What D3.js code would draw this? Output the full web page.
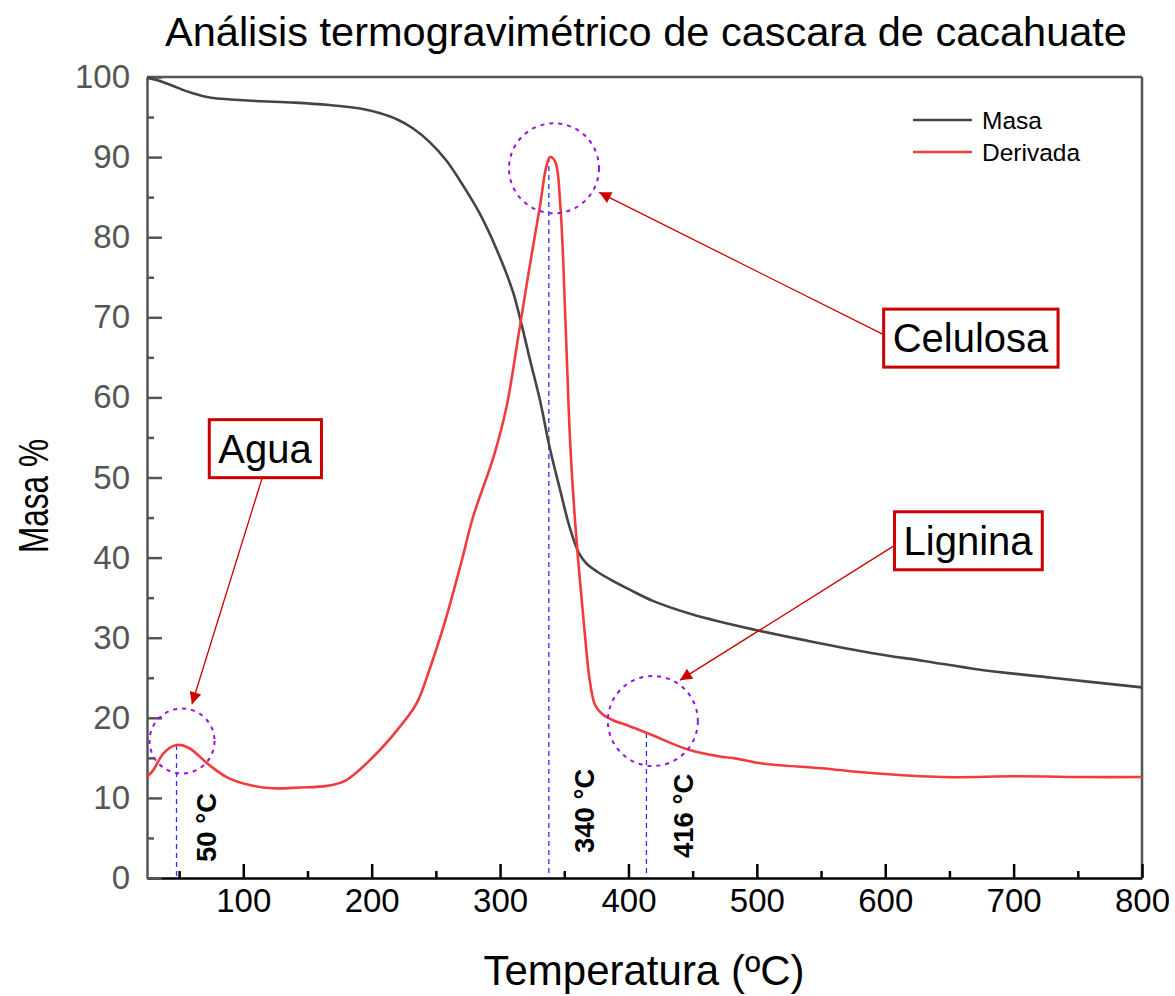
<!DOCTYPE html>
<html><head><meta charset="utf-8">
<script src="https://cdn.jsdelivr.net/npm/d3@7"></script>
<style>body{margin:0;background:#fff} text{font-family:"Liberation Sans",Arial,Helvetica,sans-serif}</style>
</head><body><svg id="chart" width="1175" height="996"></svg>
<script>
// ---- data ----
const masaTemps  = [25,35,45,60,75,90,110,140,167,190,206,220,232,245,258,271,284,297,310,316,323,331,339,347,354,361,367,376,390,401,419,450,498,540,589,630,674,730,800];
const masaValues = [99.9,99.5,98.9,98.0,97.4,97.2,97.0,96.8,96.5,96.1,95.5,94.7,93.6,91.9,89.6,86.5,83.0,78.6,73.2,69.6,64.9,59.7,53.5,48.3,43.9,40.7,39.3,38.2,36.9,36.0,34.6,32.9,31.0,29.6,28.1,27.1,26.0,25.0,23.8];
const derivTemps  = [25,30,38,48,58,72,87,105,123,144,165,180,201,220,235,245,256,269,279,295,305,315,323,331,336,339,343,347,351,354.5,358,362,366,370,374,380,388,400,416,447,470,484,504,550,589,645,702,759,800];
const derivValues = [12.6,13.5,15.6,16.6,16.2,14.3,12.6,11.6,11.2,11.3,11.5,12.2,15.1,18.5,21.8,26.0,31.4,38.9,45.1,52.6,58.8,68.4,76.3,83.8,88.8,90.0,89.4,83.8,69.2,54.7,45.5,37.5,30.5,24.5,21.6,20.4,19.7,19.0,18.0,16.0,15.2,14.9,14.3,13.7,13.1,12.6,12.7,12.6,12.6];
const seriesNames = ["Masa","Derivada"];
const xMajorTicks = [100,200,300,400,500,600,700,800];
const xMinorTicks = [50,150,250,350,450,550,650,750];
const yMajorTicks = [0,10,20,30,40,50,60,70,80,90,100];
const yMinorTicks = [5,15,25,35,45,55,65,75,85,95];
const peakTemps  = [48,338,414];
const peakValues = [16.6,90.0,18.1];
const peakLabels = ["50 °C","340 °C","416 °C"];
const circleTemps  = [52.3,342,419];
const circleValues = [17.1,88.6,19.6];
const boxLabels = ["Agua","Celulosa","Lignina"];
const boxTemps  = [116.9,666.4,664.5];
const boxValues = [53.6,67.4,42.1];
const arrowFromT = [114.6,599.1,606.1];
const arrowFromV = [49.9,67.8,41.4];
const arrowToT   = [60.0,377.1,440.1];
const arrowToV   = [21.7,85.6,24.7];

// ---- scales ----
const svg = d3.select('#chart');
const x = d3.scaleLinear().domain([25,800]).range([147,1142]);
const y = d3.scaleLinear().domain([0,100]).range([878,77]);
const axisGray = "#555";
const FF = '"Liberation Sans",Arial,sans-serif';

// frame (top & right)
svg.append("line").attr("x1",x(25)).attr("x2",x(800)).attr("y1",y(100)).attr("y2",y(100)).attr("stroke",axisGray).attr("stroke-width",2.5);
svg.append("line").attr("x1",x(800)).attr("x2",x(800)).attr("y1",y(100)).attr("y2",y(0)).attr("stroke",axisGray).attr("stroke-width",2.5);

// x axis
const gx = svg.append("g").attr("transform",`translate(0,${y(0)})`)
  .call(d3.axisBottom(x).tickValues(xMajorTicks).tickSizeInner(-14).tickSizeOuter(0).tickPadding(11).tickFormat(d3.format("d")));
gx.select(".domain").attr("stroke","#000").attr("stroke-width",2.5);
gx.selectAll(".tick line").attr("stroke","#000").attr("stroke-width",2.5);
gx.selectAll(".tick text").attr("font-size",33).attr("fill","#000").attr("font-family",FF);
const gxm = svg.append("g").attr("transform",`translate(0,${y(0)})`)
  .call(d3.axisBottom(x).tickValues(xMinorTicks).tickSizeInner(-7).tickSizeOuter(0).tickFormat(""));
gxm.select(".domain").remove();
gxm.selectAll(".tick line").attr("stroke","#000").attr("stroke-width",2.5);

// y axis
const gy = svg.append("g").attr("transform",`translate(${x(25)},0)`)
  .call(d3.axisLeft(y).tickValues(yMajorTicks).tickSizeInner(-15).tickSizeOuter(0).tickPadding(17).tickFormat(d3.format("d")));
gy.select(".domain").attr("stroke",axisGray).attr("stroke-width",2.5);
gy.selectAll(".tick line").attr("stroke",axisGray).attr("stroke-width",2.5);
gy.selectAll(".tick text").attr("font-size",33).attr("fill",axisGray).attr("font-family",FF);
const gym = svg.append("g").attr("transform",`translate(${x(25)},0)`)
  .call(d3.axisLeft(y).tickValues(yMinorTicks).tickSizeInner(-7).tickSizeOuter(0).tickFormat(""));
gym.select(".domain").remove();
gym.selectAll(".tick line").attr("stroke",axisGray).attr("stroke-width",2.5);

// dashed vertical peak lines
svg.append("g").selectAll("line").data(peakTemps).join("line")
  .attr("x1",d=>x(d)).attr("x2",d=>x(d))
  .attr("y1",(d,i)=>y(peakValues[i])).attr("y2",y(0))
  .attr("stroke","#2233ff").attr("stroke-width",1.3).attr("stroke-dasharray","5,4");

// curves
const line = d3.line().curve(d3.curveCatmullRom.alpha(0.5));
const masaPts = masaTemps.map((t,i)=>[x(t),y(masaValues[i])]);
const derivPts = derivTemps.map((t,i)=>[x(t),y(derivValues[i])]);
svg.append("path").attr("d",line(masaPts)).attr("fill","none").attr("stroke","#444").attr("stroke-width",2.6);
svg.append("path").attr("d",line(derivPts)).attr("fill","none").attr("stroke","#f03c3c").attr("stroke-width",2.6);

// dashed circles
const radii = [32.5,45,45];
svg.append("g").selectAll("circle").data(circleTemps).join("circle")
  .attr("cx",d=>x(d)).attr("cy",(d,i)=>y(circleValues[i])).attr("r",(d,i)=>radii[i])
  .attr("fill","none").attr("stroke","#9a10e0").attr("stroke-width",2).attr("stroke-dasharray","4,5");

// peak labels (rotated)
const labelOffsets = [30,36,37];
const labelBottoms = [862,853,858];
peakLabels.forEach((lab,i)=>{
  const cx = x(peakTemps[i]) + labelOffsets[i];
  svg.append("text").attr("transform",`translate(${cx},${labelBottoms[i]}) rotate(-90)`)
    .attr("dominant-baseline","central").attr("text-anchor","start")
    .attr("font-size",27.5).attr("font-weight","bold").attr("fill","#000").text(lab);
});

// arrows
const defs = svg.append("defs");
defs.append("marker").attr("id","arr").attr("viewBox","0 0 10 10").attr("refX",10).attr("refY",5)
  .attr("markerWidth",17).attr("markerHeight",12).attr("markerUnits","userSpaceOnUse").attr("orient","auto")
  .append("path").attr("d","M0,0 L10,5 L0,10 Z").attr("fill","#cc0000");
arrowFromT.forEach((t,i)=>{
  svg.append("line").attr("x1",x(t)).attr("y1",y(arrowFromV[i])).attr("x2",x(arrowToT[i])).attr("y2",y(arrowToV[i]))
    .attr("stroke","#cc0000").attr("stroke-width",1.3).attr("marker-end","url(#arr)");
});

// boxed labels
boxLabels.forEach((lab,i)=>{
  const g = svg.append("g");
  const t = g.append("text").attr("x",x(boxTemps[i])).attr("y",y(boxValues[i]))
    .attr("text-anchor","middle").attr("dominant-baseline","central").attr("font-size",40).attr("fill","#000").text(lab);
  const bb = t.node().getBBox();
  g.insert("rect","text").attr("x",bb.x-9).attr("y",y(boxValues[i])-29).attr("width",bb.width+18).attr("height",58)
    .attr("fill","#fff").attr("stroke","#cc0000").attr("stroke-width",3);
});

// legend
const legColors = ["#444","#f03c3c"];
seriesNames.forEach((n,i)=>{
  const ly = 120 + i*32;
  svg.append("line").attr("x1",913).attr("x2",972).attr("y1",ly).attr("y2",ly).attr("stroke",legColors[i]).attr("stroke-width",2.6);
  svg.append("text").attr("x",982).attr("y",ly).attr("dominant-baseline","central").attr("font-size",24.5).attr("fill","#000").text(n);
});

// titles
svg.append("text").attr("x",646).attr("y",46).attr("text-anchor","middle").attr("font-size",41.5).attr("fill","#000")
  .text("Análisis termogravimétrico de cascara de cacahuate");
svg.append("text").attr("x",644).attr("y",985).attr("text-anchor","middle").attr("font-size",42).attr("fill","#000")
  .text("Temperatura (ºC)");
svg.append("text").attr("transform","translate(48,496) rotate(-90)").attr("text-anchor","middle").attr("font-size",43)
  .attr("textLength",114).attr("lengthAdjust","spacingAndGlyphs").attr("fill","#000")
  .text("Masa %");
</script></body></html>
